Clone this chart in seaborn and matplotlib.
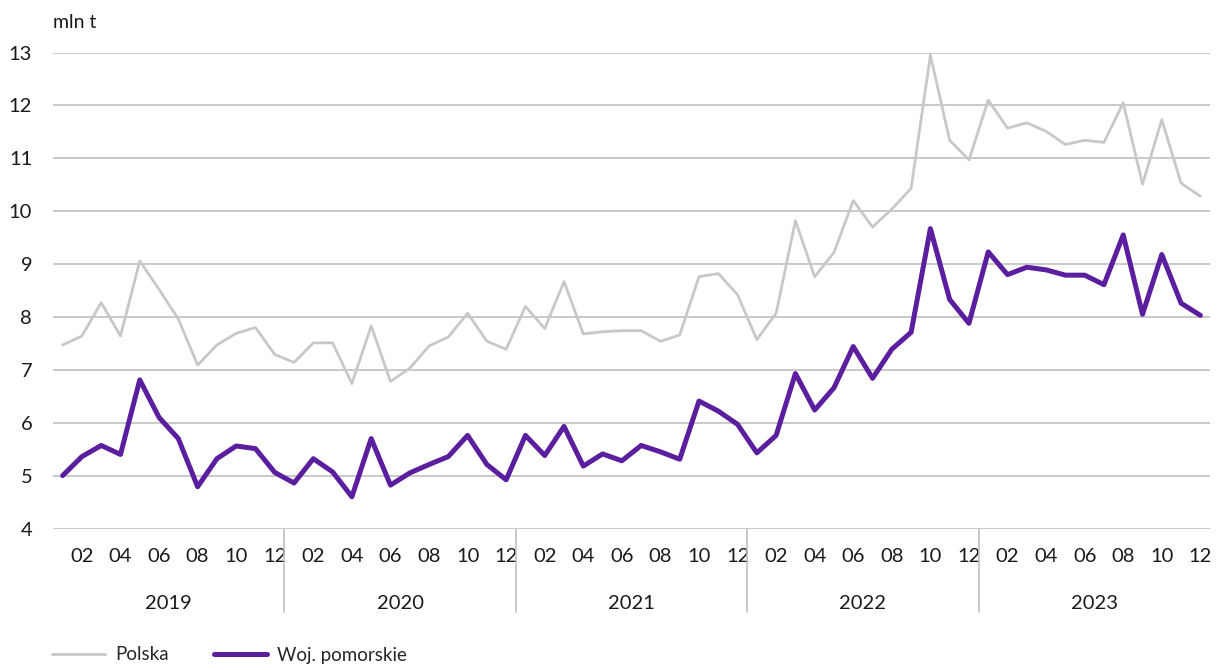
import matplotlib
matplotlib.use('Agg')
import matplotlib.pyplot as plt
import matplotlib.transforms as mtransforms
import pandas as pd
import seaborn as sns

# Monthly data 2019-01 .. 2023-12, mln t
years = ['2019', '2020', '2021', '2022', '2023']
months = ['01', '02', '03', '04', '05', '06', '07', '08', '09', '10', '11', '12']

polska = [
  7.47, 7.64, 8.27, 7.64, 9.06, 8.52, 7.96, 7.09, 7.47, 7.69, 7.80, 7.29,
  7.14, 7.51, 7.51, 6.74, 7.83, 6.78, 7.03, 7.45, 7.62, 8.07, 7.54, 7.39,
  8.20, 7.78, 8.67, 7.68, 7.72, 7.74, 7.74, 7.54, 7.66, 8.76, 8.82, 8.42,
  7.57, 8.07, 9.82, 8.76, 9.22, 10.20, 9.70, 10.04, 10.43, 12.95, 11.34, 10.97,
  12.10, 11.57, 11.67, 11.51, 11.26, 11.34, 11.30, 12.05, 10.51, 11.73, 10.53, 10.28
]
pomorskie = [
  5.00, 5.36, 5.57, 5.40, 6.81, 6.10, 5.70, 4.79, 5.32, 5.56, 5.51, 5.06,
  4.86, 5.32, 5.07, 4.60, 5.70, 4.82, 5.05, 5.21, 5.36, 5.76, 5.21, 4.92,
  5.76, 5.38, 5.93, 5.18, 5.41, 5.28, 5.57, 5.45, 5.31, 6.41, 6.22, 5.97,
  5.43, 5.76, 6.93, 6.24, 6.66, 7.44, 6.84, 7.39, 7.71, 9.67, 8.33, 7.88,
  9.23, 8.80, 8.94, 8.89, 8.79, 8.79, 8.61, 9.55, 8.05, 9.18, 8.26, 8.03
]

n = len(polska)
df = pd.DataFrame({
  'idx': list(range(n)) * 2,
  'value': polska + pomorskie,
  'series': ['Polska'] * n + ['Woj. pomorskie'] * n,
})

sns.set_theme(style='white')
plt.rcParams['font.family'] = ['Lato', 'DejaVu Sans']

fig = plt.figure(figsize=(12.19, 6.70), dpi=100)
ax = fig.add_axes([53 / 1219, 1 - 528.5 / 670, (1210 - 53) / 1219, (528.5 - 52.5) / 670])

grey = '#c8c8c8'
purple = '#5a1e9e'
sns.lineplot(data=df[df['series'] == 'Polska'], x='idx', y='value', ax=ax,
             color=grey, linewidth=2.0, label='Polska')
sns.lineplot(data=df[df['series'] == 'Woj. pomorskie'], x='idx', y='value', ax=ax,
             color=purple, linewidth=3.6, label='Woj. pomorskie')

ax.set_xlim(-0.5, n - 0.5)
ax.set_ylim(4, 13)
ax.set_yticks(range(4, 14))
ax.yaxis.grid(True, color='#c0c0c0', linewidth=1.2)
ax.set_axisbelow(True)
for s in ax.spines.values():
  s.set_visible(False)
ax.set_xlabel('')
ax.set_ylabel('')
ax.tick_params(axis='y', length=0, pad=15, labelsize=14.5, colors='#1a1a1a')

# month ticks every second month
tick_pos = [i for i in range(n) if i % 2 == 1]
tick_lab = [months[i % 12] for i in tick_pos]
ax.set_xticks(tick_pos)
ax.set_xticklabels(tick_lab)
ax.tick_params(axis='x', length=0, pad=14, labelsize=14.5, colors='#1a1a1a')

# year labels and separators
trans = mtransforms.blended_transform_factory(ax.transData, ax.transAxes)
for k, yr in enumerate(years):
  ax.text(k * 12 + 5.5, -0.157, yr, transform=trans, ha='center', va='center',
          fontsize=14.5, color='#1a1a1a')
  if k > 0:
    ax.plot([k * 12 - 0.5, k * 12 - 0.5], [0, -0.175], transform=trans,
            color='#c0c0c0', linewidth=1.2, clip_on=False)

fig.text(53 / 1219, 1 - 22 / 670, 'mln t', ha='left', va='center', fontsize=14, color='#1a1a1a')

ax.get_legend().remove()
handles, labels = ax.get_legend_handles_labels()
fig.legend(handles, labels, loc='center left', bbox_to_anchor=(52 / 1219, 1 - 655 / 670),
           ncol=2, frameon=False, fontsize=13.5, handlelength=2.8, handletextpad=0.55,
           columnspacing=2.45, borderpad=0, borderaxespad=0)

fig.savefig('out.png', dpi=100)
